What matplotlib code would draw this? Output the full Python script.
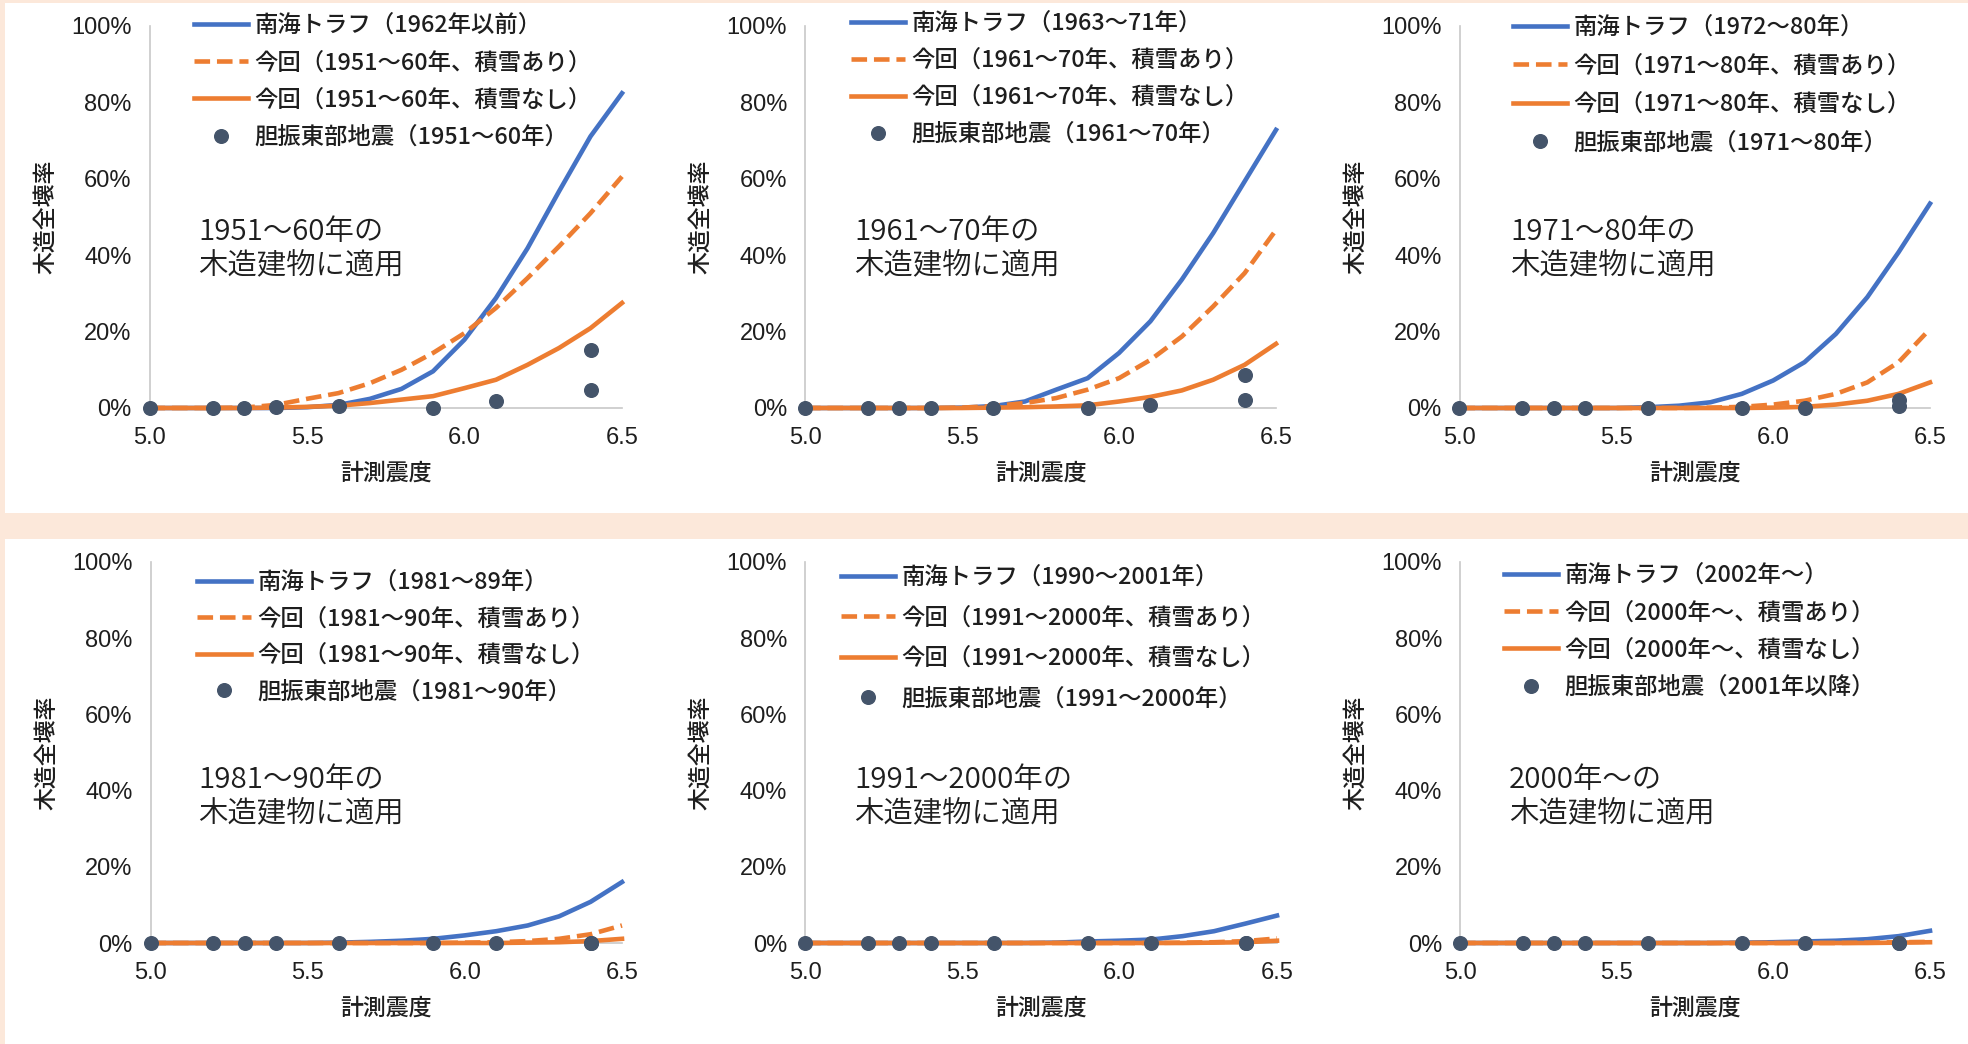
import matplotlib
matplotlib.use("Agg")
import matplotlib.pyplot as plt
from matplotlib.patches import Rectangle
from matplotlib.ticker import PercentFormatter, FixedLocator

plt.rcParams['font.family'] = ['Noto Sans CJK JP', 'DejaVu Sans']

# ---------------------------------------------------------------- data
# 計測震度 grid of the fragility curves
intensity = [5.0, 5.1, 5.2, 5.3, 5.4, 5.5, 5.6, 5.7, 5.8, 5.9,
             6.0, 6.1, 6.2, 6.3, 6.4, 6.5]
# 計測震度 at the observation sites of the 胆振東部地震
obs_intensity = [5.0, 5.2, 5.3, 5.4, 5.6, 5.9, 6.1, 6.4, 6.4]

# 木造全壊率 (%) : 南海トラフ curve / 今回 with snow / 今回 without snow / observed
nankai_1951 = [0, 0, 0, 0, 0, 0.2, 0.8, 2.4, 5.0, 9.6, 17.9, 28.8, 41.8, 56.7, 71.1, 82.4]
snow_1951   = [0, 0, 0, 0.1, 0.8, 2.4, 3.9, 6.5, 10.0, 14.4, 19.6, 26.2, 34.0, 42.3, 51.0, 60.6]
nosnow_1951 = [0, 0, 0, 0, 0.1, 0.3, 0.6, 1.3, 2.2, 3.1, 5.2, 7.4, 11.3, 15.7, 20.9, 27.5]
obs_1951    = [0, 0, 0, 0.3, 0.4, 0, 1.9, 15.3, 4.6]

nankai_1961 = [0, 0, 0, 0, 0, 0.1, 0.5, 1.7, 4.8, 7.8, 14.4, 22.7, 33.6, 45.8, 59.3, 72.8]
snow_1961   = [0, 0, 0, 0, 0, 0.1, 0.5, 1.3, 2.6, 4.8, 7.8, 12.6, 18.7, 26.6, 35.3, 46.6]
nosnow_1961 = [0, 0, 0, 0, 0, 0, 0.1, 0.2, 0.4, 0.7, 1.7, 2.9, 4.6, 7.4, 11.3, 16.8]
obs_1961    = [0, 0, 0, 0, 0, 0, 0.9, 8.7, 2.2]

nankai_1971 = [0, 0, 0, 0, 0, 0, 0.2, 0.6, 1.5, 3.7, 7.2, 12.0, 19.4, 29.0, 40.8, 53.5]
snow_1971   = [0, 0, 0, 0, 0, 0, 0, 0, 0.1, 0.3, 0.9, 1.9, 3.7, 6.7, 12.0, 20.7]
nosnow_1971 = [0, 0, 0, 0, 0, 0, 0, 0, 0, 0, 0.1, 0.3, 0.9, 1.9, 3.7, 6.7]
obs_1971    = [0, 0, 0, 0, 0, 0, 0, 2.0, 0.4]

nankai_1981 = [0, 0, 0, 0, 0, 0, 0.1, 0.3, 0.6, 1.1, 2.0, 3.1, 4.6, 7.0, 10.8, 16.0]
snow_1981   = [0, 0, 0, 0, 0, 0, 0, 0, 0, 0, 0.1, 0.2, 0.5, 1.1, 2.3, 4.6]
nosnow_1981 = [0, 0, 0, 0, 0, 0, 0, 0, 0, 0, 0, 0, 0.1, 0.2, 0.5, 1.1]
obs_1981    = [0, 0, 0, 0, 0, 0, 0, 0, 0]

nankai_1991 = [0, 0, 0, 0, 0, 0, 0, 0, 0.1, 0.4, 0.6, 0.9, 1.8, 3.1, 5.1, 7.2]
snow_1991   = [0, 0, 0, 0, 0, 0, 0, 0, 0, 0, 0, 0, 0.1, 0.2, 0.5, 1.2]
nosnow_1991 = [0, 0, 0, 0, 0, 0, 0, 0, 0, 0, 0, 0, 0, 0.1, 0.2, 0.6]
obs_1991    = [0, 0, 0, 0, 0, 0, 0, 0, 0]

nankai_2000 = [0, 0, 0, 0, 0, 0, 0, 0, 0, 0.1, 0.2, 0.4, 0.6, 1.0, 1.8, 3.2]
snow_2000   = [0, 0, 0, 0, 0, 0, 0, 0, 0, 0, 0, 0, 0, 0.1, 0.2, 0.3]
nosnow_2000 = [0, 0, 0, 0, 0, 0, 0, 0, 0, 0, 0, 0, 0, 0, 0.1, 0.2]
obs_2000    = [0, 0, 0, 0, 0, 0, 0, 0, 0]

# legend labels and panel notes
labels_1951 = ["南海トラフ（1962年以前）", "今回（1951～60年、積雪あり）",
               "今回（1951～60年、積雪なし）", "胆振東部地震（1951～60年）"]
labels_1961 = ["南海トラフ（1963～71年）", "今回（1961～70年、積雪あり）",
               "今回（1961～70年、積雪なし）", "胆振東部地震（1961～70年）"]
labels_1971 = ["南海トラフ（1972～80年）", "今回（1971～80年、積雪あり）",
               "今回（1971～80年、積雪なし）", "胆振東部地震（1971～80年）"]
labels_1981 = ["南海トラフ（1981～89年）", "今回（1981～90年、積雪あり）",
               "今回（1981～90年、積雪なし）", "胆振東部地震（1981～90年）"]
labels_1991 = ["南海トラフ（1990～2001年）", "今回（1991～2000年、積雪あり）",
               "今回（1991～2000年、積雪なし）", "胆振東部地震（1991～2000年）"]
labels_2000 = ["南海トラフ（2002年～）", "今回（2000年～、積雪あり）",
               "今回（2000年～、積雪なし）", "胆振東部地震（2001年以降）"]

notes = ["1951～60年の\n木造建物に適用", "1961～70年の\n木造建物に適用",
         "1971～80年の\n木造建物に適用", "1981～90年の\n木造建物に適用",
         "1991～2000年の\n木造建物に適用", "2000年～の\n木造建物に適用"]

x_ticks = [5.0, 5.5, 6.0, 6.5]
x_tick_labels = ["5.0", "5.5", "6.0", "6.5"]
y_ticks = [0, 20, 40, 60, 80, 100]

panels = [
    (nankai_1951, snow_1951, nosnow_1951, obs_1951, labels_1951),
    (nankai_1961, snow_1961, nosnow_1961, obs_1961, labels_1961),
    (nankai_1971, snow_1971, nosnow_1971, obs_1971, labels_1971),
    (nankai_1981, snow_1981, nosnow_1981, obs_1981, labels_1981),
    (nankai_1991, snow_1991, nosnow_1991, obs_1991, labels_1991),
    (nankai_2000, snow_2000, nosnow_2000, obs_2000, labels_2000),
]

# ---------------------------------------------------------------- layout (pixels)
W, H, DPI = 1968, 1044, 100
BLUE, ORANGE, DOT = "#4472C4", "#ED7D31", "#44546A"
PEACH = "#FCE8DA"
TEXT = "#1E1E1E"

# axes boxes: left, right, top(100%), bottom(0%)
boxes = [(149.5, 622, 26, 408), (805, 1276, 26, 408), (1459.5, 1930, 26, 408),
         (150.5, 622, 562, 943), (805, 1277, 562, 943), (1460, 1930, 562, 943)]
# legend anchor (left of handle, top of first row) and row gap
legend_pos = [(194, 14), (851, 12), (1513, 16), (197, 571), (841, 566), (1504, 564)]
legend_gap = [0.61, 0.60, 0.66, 0.58, 0.75, 0.61]
note_pos = [(198, 249), (854, 249), (1510, 249), (198, 797), (854, 797), (1509, 797)]

fig = plt.figure(figsize=(W / DPI, H / DPI), dpi=DPI)
fig.patch.set_facecolor(PEACH)
fig.patches.append(Rectangle((5 / W, 1 - 513 / H), 1, (513 - 3) / H,
                             transform=fig.transFigure, facecolor="white",
                             edgecolor="none", zorder=-10))
fig.patches.append(Rectangle((5 / W, 0), 1, (H - 539) / H,
                             transform=fig.transFigure, facecolor="white",
                             edgecolor="none", zorder=-10))

for i, (nankai, snow, nosnow, obs, labels) in enumerate(panels):
    l, r, t, b = boxes[i]
    ax = fig.add_axes([l / W, 1 - b / H, (r - l) / W, (b - t) / H])
    ax.set_facecolor("none")
    ax.set_zorder(1)

    h1, = ax.plot(intensity, nankai, color=BLUE, lw=3.3, clip_on=False,
                  solid_joinstyle="round", zorder=3)
    h2, = ax.plot(intensity, snow, color=ORANGE, lw=3.3, ls=(0, (3.4, 1.5)),
                  clip_on=False, zorder=4)
    h3, = ax.plot(intensity, nosnow, color=ORANGE, lw=3.3, clip_on=False,
                  solid_joinstyle="round", zorder=5)
    h4, = ax.plot(obs_intensity, obs, ls="none", marker="o", ms=9.8,
                  color=DOT, mec=DOT, clip_on=False, zorder=6)

    ax.set_xlim(5.0, 6.5)
    ax.set_ylim(0, 100)
    ax.xaxis.set_major_locator(FixedLocator(x_ticks))
    ax.set_xticklabels(x_tick_labels)
    ax.yaxis.set_major_locator(FixedLocator(y_ticks))
    ax.yaxis.set_major_formatter(PercentFormatter(decimals=0))
    ax.tick_params(length=0, labelsize=17, labelcolor=TEXT)
    ax.tick_params(axis="x", pad=14)
    ax.tick_params(axis="y", pad=13)
    for lab in ax.get_xticklabels() + ax.get_yticklabels():
        lab.set_fontfamily(["Liberation Sans", "DejaVu Sans"])
    for s in ("top", "right"):
        ax.spines[s].set_visible(False)
    for s in ("left", "bottom"):
        ax.spines[s].set_color("#C8C8C8")
        ax.spines[s].set_linewidth(1.2)

    aw, ah = r - l, b - t
    ax.text(-104 / aw, 0.5, "木造全壊率", rotation=90, ha="center", va="center",
            transform=ax.transAxes, fontsize=16.5, fontweight=500, color=TEXT)
    ax.text(0.5, -65 / ah, "計測震度", ha="center", va="center",
            transform=ax.transAxes, fontsize=16.5, fontweight=500, color=TEXT)

    nx, ny = note_pos[i]
    ax.text((nx - l) / aw, (b - ny) / ah, notes[i], ha="left", va="center",
            transform=ax.transAxes, fontsize=21.2, fontweight=350,
            linespacing=1.2, color=TEXT)

    lx, ly = legend_pos[i]
    leg = ax.legend([h1, h2, h3, h4], labels, loc="upper left",
                    bbox_to_anchor=(lx / W, 1 - ly / H),
                    bbox_transform=fig.transFigure, frameon=False,
                    prop={"size": 16.8, "weight": 500},
                    handlelength=2.3, handletextpad=0.3,
                    labelspacing=legend_gap[i], borderpad=0, borderaxespad=0)
    for txt in leg.get_texts():
        txt.set_color(TEXT)

fig.savefig("out.png", dpi=DPI, facecolor=fig.get_facecolor())
